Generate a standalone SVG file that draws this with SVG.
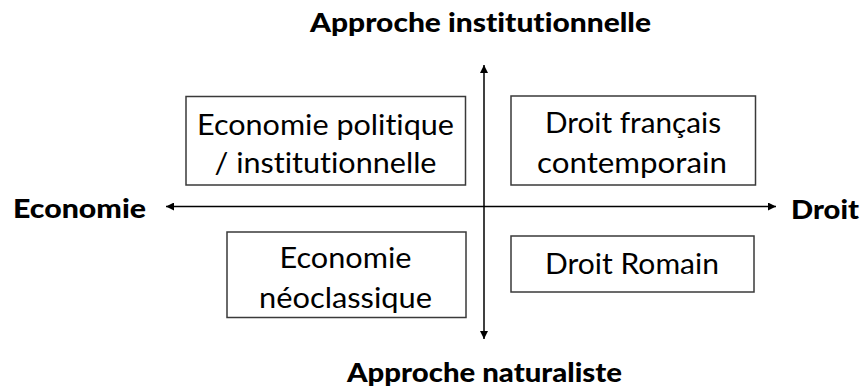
<svg xmlns="http://www.w3.org/2000/svg" width="863" height="390" viewBox="0 0 863 390">
<defs>
<marker id="arr" viewBox="0 0 10 10" refX="10" refY="5" markerWidth="9" markerHeight="8" markerUnits="userSpaceOnUse" orient="auto">
<path d="M0,0 L10,5 L0,10 z" fill="#000"/>
</marker>
<style>
.box{fill:#fff;stroke:#3a3a3a;stroke-width:1.5}
.t{font-family:Lato,"Liberation Sans",sans-serif;font-size:29px;fill:#000;text-anchor:middle;font-variant-ligatures:none;font-feature-settings:"liga" 0}
.b{font-family:Lato,"Liberation Sans",sans-serif;font-size:27px;font-weight:900;fill:#000;font-variant-ligatures:none;font-feature-settings:"liga" 0}
.ax{stroke:#000;stroke-width:1.5;fill:none}
</style>
</defs>
<rect width="863" height="390" fill="#fff"/>
<g id="connectors">
<line class="ax" x1="484" y1="206.5" x2="484" y2="65" marker-end="url(#arr)"/>
<line class="ax" x1="484" y1="206.5" x2="484" y2="339" marker-end="url(#arr)"/>
<line class="ax" x1="484" y1="206.5" x2="166" y2="206.5" marker-end="url(#arr)"/>
<line class="ax" x1="484" y1="206.5" x2="776" y2="206.5" marker-end="url(#arr)"/>
</g>
<g id="label-top"><text class="b" x="310" y="32" textLength="341" lengthAdjust="spacingAndGlyphs">Approche institutionnelle</text></g>
<g id="label-bottom"><text class="b" x="347" y="382" textLength="275" lengthAdjust="spacingAndGlyphs">Approche naturaliste</text></g>
<g id="label-left"><text class="b" x="13" y="218" textLength="133" lengthAdjust="spacingAndGlyphs">Economie</text></g>
<g id="label-right"><text class="b" x="791" y="219" textLength="68" lengthAdjust="spacingAndGlyphs">Droit</text></g>
<g id="node-eco-pol">
<rect class="box" x="186" y="96.5" width="279.5" height="88.5"/>
<text class="t" x="325.5" y="135" textLength="257" lengthAdjust="spacingAndGlyphs">Economie politique</text>
<text class="t" x="325.5" y="173" textLength="222" lengthAdjust="spacingAndGlyphs">/ institutionnelle</text>
</g>
<g id="node-droit-fr">
<rect class="box" x="511" y="96" width="244.5" height="89"/>
<text class="t" x="633" y="133" textLength="176" lengthAdjust="spacingAndGlyphs">Droit français</text>
<text class="t" x="632" y="172.5" textLength="190" lengthAdjust="spacingAndGlyphs">contemporain</text>
</g>
<g id="node-eco-neo">
<rect class="box" x="227" y="232" width="239" height="85.5"/>
<text class="t" x="345.5" y="268" textLength="132" lengthAdjust="spacingAndGlyphs">Economie</text>
<text class="t" x="345.5" y="308" textLength="173" lengthAdjust="spacingAndGlyphs">néoclassique</text>
</g>
<g id="node-droit-rom">
<rect class="box" x="511" y="236" width="243" height="56"/>
<text class="t" x="632" y="274" textLength="174" lengthAdjust="spacingAndGlyphs">Droit Romain</text>
</g>
</svg>
